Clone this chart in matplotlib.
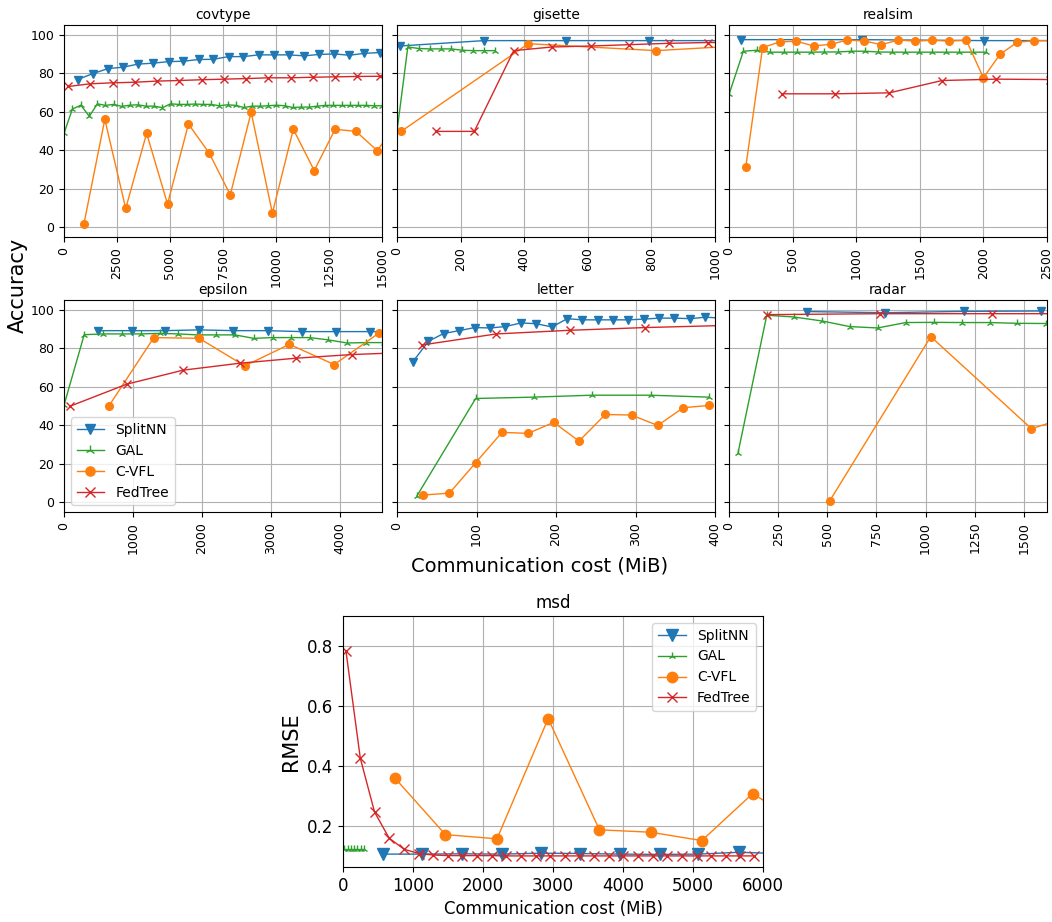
import matplotlib
matplotlib.use("Agg")
import matplotlib.pyplot as plt

# ---------------- data ----------------
methods = ["SplitNN", "GAL", "C-VFL", "FedTree"]
colors = ["tab:blue", "tab:green", "tab:orange", "tab:red"]
markers = ["v", "2", "o", "x"]

# covtype
covtype_splitnn_x = [640, 1367, 2083, 2783, 3483, 4215, 4930, 5630, 6346, 7046, 7762, 8462, 9178, 9893, 10600, 11320, 12030, 12750, 13460, 14170, 14900]
covtype_splitnn_y = [76.7, 79.8, 82.4, 83.1, 84.7, 85.2, 86.0, 86.2, 87.1, 87.2, 88.6, 88.6, 89.5, 89.5, 89.5, 89.0, 89.7, 90.0, 89.3, 90.3, 90.7]
covtype_gal_x = [0, 397, 795, 1193, 1575, 1957, 2338, 2720, 3102, 3484, 3866, 4248, 4645, 5027, 5409, 5790, 6172, 6554, 6936, 7318, 7716, 8098, 8480, 8862, 9259, 9641, 10023, 10405, 10787, 11168, 11566, 11948, 12330, 12712, 13094, 13491, 13873, 14255, 14637, 15019]
covtype_gal_y = [48.8, 61.4, 63.4, 57.6, 64.1, 63.3, 63.8, 62.8, 63.4, 63.6, 62.9, 62.9, 62.1, 64.1, 63.8, 63.8, 64.0, 63.8, 63.8, 63.1, 63.6, 63.3, 62.2, 62.9, 62.9, 63.1, 63.4, 63.1, 62.2, 62.4, 62.4, 62.9, 63.3, 63.3, 63.3, 63.3, 63.3, 63.3, 63.1, 63.1]
covtype_cvfl_x = [938, 1925, 2911, 3898, 4884, 5870, 6856, 7842, 8828, 9830, 10817, 11803, 12789, 13775, 14777, 15763]
covtype_cvfl_y = [1.7, 56.0, 9.8, 48.8, 12.1, 53.6, 38.4, 16.9, 59.7, 7.4, 50.9, 29.5, 50.9, 49.8, 39.8, 55.0]
covtype_fedtree_x = [207, 1241, 2290, 3340, 4390, 5440, 6490, 7540, 8590, 9640, 10690, 11740, 12790, 13840, 14890]
covtype_fedtree_y = [73.1, 74.5, 75.0, 75.3, 75.9, 76.2, 76.6, 76.9, 77.2, 77.6, 77.6, 77.9, 78.1, 78.3, 78.4]

# gisette
gisette_splitnn_x = [8, 274, 532, 793, 1053]
gisette_splitnn_y = [94.1, 96.9, 96.9, 96.9, 96.9]
gisette_gal_x = [0, 34, 69, 103, 138, 171, 205, 240, 274, 309]
gisette_gal_y = [49.9, 93.6, 92.8, 92.6, 92.6, 92.6, 91.9, 91.7, 91.7, 91.7]
gisette_cvfl_x = [13, 413, 815, 1217]
gisette_cvfl_y = [49.8, 95.3, 91.7, 95.5]
gisette_fedtree_x = [122, 243, 367, 488, 610, 731, 854, 977, 1100]
gisette_fedtree_y = [49.8, 49.8, 91.7, 93.6, 94.1, 94.8, 95.5, 95.9, 96.0]

# realsim
realsim_splitnn_x = [92, 1047, 2002, 2957]
realsim_splitnn_y = [97.4, 97.4, 96.9, 96.9]
realsim_gal_x = [0, 113, 219, 324, 430, 535, 644, 749, 855, 963, 1068, 1174, 1282, 1387, 1493, 1598, 1704, 1809, 1917, 2023]
realsim_gal_y = [69.0, 91.4, 91.9, 90.9, 90.9, 90.9, 90.9, 91.0, 91.0, 91.4, 91.4, 91.0, 90.9, 90.9, 90.9, 90.9, 90.9, 90.9, 90.9, 90.9]
realsim_cvfl_x = [132, 264, 398, 530, 665, 799, 931, 1065, 1197, 1332, 1464, 1599, 1731, 1865, 2000, 2131, 2265, 2397, 2530]
realsim_cvfl_y = [31.4, 93.3, 96.2, 96.6, 94.1, 95.0, 97.2, 96.7, 94.8, 97.2, 96.6, 97.1, 96.6, 97.2, 77.6, 89.8, 96.0, 96.9, 96.9]
realsim_fedtree_x = [417, 836, 1261, 1675, 2099, 2520]
realsim_fedtree_y = [69.3, 69.3, 69.8, 76.2, 76.9, 76.7]

# epsilon
epsilon_splitnn_x = [488, 980, 1468, 1961, 2454, 2951, 3444, 3937, 4429, 4920]
epsilon_splitnn_y = [89.1, 89.1, 89.1, 89.5, 89.1, 89.1, 88.6, 88.6, 88.6, 88.6]
epsilon_gal_x = [0, 293, 566, 839, 1112, 1385, 1659, 1932, 2205, 2478, 2751, 3024, 3298, 3561, 3834, 4102, 4371, 4640]
epsilon_gal_y = [50.4, 87.0, 87.4, 87.4, 87.4, 87.7, 87.4, 86.9, 86.9, 86.9, 85.1, 85.5, 85.5, 85.5, 84.3, 82.7, 82.9, 82.9]
epsilon_cvfl_x = [649, 1302, 1961, 2620, 3268, 3917, 4561]
epsilon_cvfl_y = [49.9, 85.5, 85.1, 70.8, 82.0, 71.5, 87.7]
epsilon_fedtree_x = [88, 907, 1727, 2551, 3361, 4176, 4990]
epsilon_fedtree_y = [49.9, 61.3, 68.6, 72.2, 74.8, 76.7, 77.8]

# letter
letter_splitnn_x = [19.8, 39.6, 58.5, 78.3, 97.7, 117, 136, 156, 175, 195, 214, 233, 253, 272, 291, 311, 330, 349, 369, 388, 407]
letter_splitnn_y = [72.9, 83.6, 87.6, 89.1, 90.7, 90.5, 91.2, 93.1, 92.7, 91.0, 95.3, 94.7, 94.7, 94.7, 94.7, 95.1, 95.6, 95.6, 95.3, 96.1, 95.6]
letter_gal_x = [25, 99, 172, 245, 319, 392]
letter_gal_y = [3.3, 53.9, 54.6, 55.6, 55.6, 54.6]
letter_cvfl_x = [33, 66, 99, 132, 165, 197, 229, 262, 295, 328, 360, 393]
letter_cvfl_y = [3.8, 4.8, 20.6, 36.3, 35.8, 41.5, 31.8, 45.6, 45.3, 39.9, 49.1, 50.3]
letter_fedtree_x = [32, 125, 218, 312, 405]
letter_fedtree_y = [81.7, 87.4, 89.3, 90.7, 91.7]

# radar
radar_splitnn_x = [397, 793, 1193, 1587]
radar_splitnn_y = [99.0, 98.4, 99.1, 99.3]
radar_gal_x = [46, 192, 329, 474, 614, 756, 899, 1041, 1183, 1325, 1466, 1610]
radar_gal_y = [25.7, 97.1, 96.2, 94.1, 91.2, 90.5, 93.3, 93.4, 93.3, 93.3, 92.9, 92.8]
radar_cvfl_x = [513, 1026, 1538, 2050]
radar_cvfl_y = [0.9, 86.0, 38.2, 55.0]
radar_fedtree_x = [192, 766, 1338, 1910]
radar_fedtree_y = [97.4, 97.9, 97.9, 97.9]

# msd (RMSE)
msd_splitnn_x = [565, 1131, 1701, 2266, 2822, 3382, 3957, 4523, 5078, 5653, 6220]
msd_splitnn_y = [0.106, 0.106, 0.107, 0.106, 0.109, 0.108, 0.106, 0.105, 0.106, 0.112, 0.108]
msd_gal_x = [20, 66, 112, 158, 204, 250, 296]
msd_gal_y = [0.124, 0.124, 0.124, 0.124, 0.124, 0.124, 0.124]
msd_cvfl_x = [736, 1463, 2200, 2931, 3663, 4394, 5126, 5853, 6585]
msd_cvfl_y = [0.361, 0.171, 0.157, 0.558, 0.187, 0.179, 0.151, 0.308, 0.200]
msd_fedtree_x = [43, 247, 451, 660, 874, 1083, 1287, 1496, 1705, 1914, 2124, 2333, 2542, 2751, 2960, 3169, 3378, 3587, 3796, 4005, 4214, 4423, 4632, 4841, 5050, 5259, 5468, 5677, 5867]
msd_fedtree_y = [0.782, 0.426, 0.246, 0.159, 0.122, 0.108, 0.103, 0.101, 0.101, 0.101, 0.101, 0.100, 0.100, 0.100, 0.100, 0.100, 0.100, 0.100, 0.100, 0.100, 0.100, 0.100, 0.100, 0.100, 0.100, 0.100, 0.100, 0.100, 0.100]

datasets = ["covtype", "gisette", "realsim", "epsilon", "letter", "radar"]
xlims = [15000, 1000, 2500, 4610, 400, 1617]
xticks = [
    [0, 2500, 5000, 7500, 10000, 12500, 15000],
    [0, 200, 400, 600, 800, 1000],
    [0, 500, 1000, 1500, 2000, 2500],
    [0, 1000, 2000, 3000, 4000],
    [0, 100, 200, 300, 400],
    [0, 250, 500, 750, 1000, 1250, 1500],
]
series = {
    "covtype": [(covtype_splitnn_x, covtype_splitnn_y), (covtype_gal_x, covtype_gal_y), (covtype_cvfl_x, covtype_cvfl_y), (covtype_fedtree_x, covtype_fedtree_y)],
    "gisette": [(gisette_splitnn_x, gisette_splitnn_y), (gisette_gal_x, gisette_gal_y), (gisette_cvfl_x, gisette_cvfl_y), (gisette_fedtree_x, gisette_fedtree_y)],
    "realsim": [(realsim_splitnn_x, realsim_splitnn_y), (realsim_gal_x, realsim_gal_y), (realsim_cvfl_x, realsim_cvfl_y), (realsim_fedtree_x, realsim_fedtree_y)],
    "epsilon": [(epsilon_splitnn_x, epsilon_splitnn_y), (epsilon_gal_x, epsilon_gal_y), (epsilon_cvfl_x, epsilon_cvfl_y), (epsilon_fedtree_x, epsilon_fedtree_y)],
    "letter": [(letter_splitnn_x, letter_splitnn_y), (letter_gal_x, letter_gal_y), (letter_cvfl_x, letter_cvfl_y), (letter_fedtree_x, letter_fedtree_y)],
    "radar": [(radar_splitnn_x, radar_splitnn_y), (radar_gal_x, radar_gal_y), (radar_cvfl_x, radar_cvfl_y), (radar_fedtree_x, radar_fedtree_y)],
}
msd_series = [(msd_splitnn_x, msd_splitnn_y), (msd_gal_x, msd_gal_y), (msd_cvfl_x, msd_cvfl_y), (msd_fedtree_x, msd_fedtree_y)]

# ---------------- figure ----------------
W, H = 1052, 922
fig = plt.figure(figsize=(W / 100, H / 100), dpi=100)

col_left = [64, 397, 729]
row_top = [25, 300]
aw, ah = 318, 212
msize = {"v": 6, "2": 6, "o": 5.5, "x": 5.5}

axes = []
for i, name in enumerate(datasets):
    r, c = divmod(i, 3)
    ax = fig.add_axes([col_left[c] / W, 1 - (row_top[r] + ah) / H, aw / W, ah / H],
                      sharey=axes[0] if axes else None)
    axes.append(ax)
    for k, (xs, ys) in enumerate(series[name]):
        ax.plot(xs, ys, color=colors[k], marker=markers[k], markersize=msize[markers[k]],
                linewidth=1.0, label=methods[k])
    ax.set_xlim(0, xlims[i])
    ax.set_ylim(-5, 105)
    ax.set_xticks(xticks[i])
    ax.set_yticks([0, 20, 40, 60, 80, 100])
    ax.tick_params(axis="x", labelrotation=90, labelsize=9)
    ax.tick_params(axis="y", labelsize=9)
    if c != 0:
        ax.tick_params(axis="y", labelleft=False)
    ax.grid(True)
    ax.set_title(name, fontsize=10, pad=4)

axes[3].legend(loc="lower left", fontsize=10, markerscale=1.2)

fig.text(18 / W, 1 - 285 / H, "Accuracy", rotation=90, ha="center", va="center", fontsize=15)
fig.text(540 / W, 1 - 566 / H, "Communication cost (MiB)", ha="center", va="center", fontsize=14)

# msd
axm = fig.add_axes([343 / W, 1 - 867 / H, 420 / W, 251 / H])
msd_ms = {"v": 8, "2": 6, "o": 7.5, "x": 7.5}
for k, (xs, ys) in enumerate(msd_series):
    axm.plot(xs, ys, color=colors[k], marker=markers[k], markersize=msd_ms[markers[k]],
             linewidth=1.0, label=methods[k])
axm.set_xlim(0, 6000)
axm.set_ylim(0.063, 0.9)
axm.set_xticks([0, 1000, 2000, 3000, 4000, 5000, 6000])
axm.set_yticks([0.2, 0.4, 0.6, 0.8])
axm.tick_params(labelsize=12)
axm.grid(True)
axm.set_title("msd", fontsize=12)
axm.set_xlabel("Communication cost (MiB)", fontsize=12)
axm.set_ylabel("RMSE", fontsize=15)
axm.legend(loc="upper right", fontsize=10)

fig.savefig("out.png", dpi=100)
